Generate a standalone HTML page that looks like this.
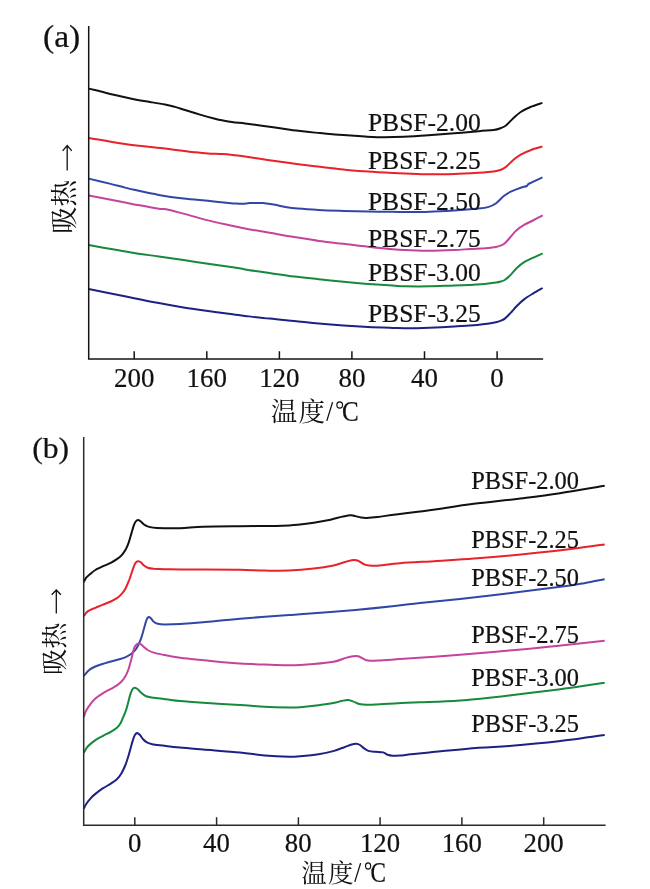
<!DOCTYPE html>
<html><head><meta charset="utf-8"><title>DSC curves</title>
<style>
html,body{margin:0;padding:0;background:#fff;}
body{width:650px;height:889px;overflow:hidden;font-family:"Liberation Serif",serif;}
svg{display:block;will-change:transform;}
</style></head><body>
<svg width="650" height="889" viewBox="0 0 650 889">
<rect width="650" height="889" fill="#fff"/>
<g fill="none" stroke-width="2.0" stroke-linejoin="round" stroke-linecap="butt">
<path stroke="#111111" d="M88.7 88.6C90.9 89.1 97.6 90.7 102.0 91.8C106.4 92.9 109.5 93.7 115.0 95.0C120.5 96.3 129.2 98.2 135.0 99.4C140.8 100.6 145.0 101.2 150.0 102.0C155.0 102.8 160.8 103.7 165.0 104.5C169.2 105.3 171.7 106.0 175.0 106.9C178.3 107.8 180.8 108.7 185.0 110.0C189.2 111.3 195.0 113.1 200.0 114.6C205.0 116.1 211.5 117.9 215.0 118.8C218.5 119.7 218.2 119.6 221.0 120.1C223.8 120.6 228.0 121.4 232.0 122.0C236.0 122.6 240.3 122.9 245.0 123.5C249.7 124.1 255.0 124.8 260.0 125.5C265.0 126.2 270.0 126.9 275.0 127.6C280.0 128.3 285.0 129.0 290.0 129.7C295.0 130.4 300.0 131.0 305.0 131.6C310.0 132.2 315.0 132.6 320.0 133.1C325.0 133.6 331.1 134.1 335.0 134.4C338.9 134.7 338.5 134.7 343.5 135.1C348.5 135.5 358.2 136.2 365.0 136.6C371.8 136.9 377.7 137.2 384.2 137.2C390.7 137.2 396.4 137.1 403.8 136.8C411.2 136.5 420.1 135.9 428.5 135.3C436.9 134.7 445.8 134.0 454.2 133.3C462.6 132.6 472.2 131.8 478.8 131.2C485.4 130.6 489.9 130.5 493.6 130.0C497.3 129.5 498.9 128.8 501.0 128.0C503.1 127.2 503.8 127.1 505.9 125.5C507.9 123.9 510.8 120.5 513.3 118.2C515.8 116.0 517.8 113.9 520.7 112.0C523.6 110.1 526.9 108.5 530.5 107.0C534.1 105.5 540.4 103.6 542.4 102.9"/>
<path stroke="#e8222a" d="M88.7 137.9C94.8 138.9 112.3 142.2 125.0 144.0C137.7 145.8 155.8 147.5 165.0 148.6C174.2 149.7 174.9 149.8 180.0 150.4C185.1 151.0 191.1 151.8 195.8 152.3C200.5 152.8 203.5 153.1 208.0 153.4C212.5 153.7 218.3 153.7 222.8 154.0C227.3 154.3 231.3 154.8 235.0 155.2C238.7 155.6 240.8 156.0 245.0 156.6C249.2 157.2 255.0 158.1 260.0 158.8C265.0 159.5 270.0 160.3 275.0 161.0C280.0 161.7 285.0 162.3 290.0 163.0C295.0 163.7 300.0 164.4 305.0 165.0C310.0 165.6 315.0 166.2 320.0 166.8C325.0 167.4 331.1 168.1 335.0 168.5C338.9 168.9 338.0 169.0 343.5 169.5C349.0 170.0 359.8 171.0 368.0 171.6C376.2 172.2 386.5 172.7 392.7 173.0C398.9 173.3 398.9 173.3 405.0 173.5C411.1 173.7 421.4 174.2 429.6 174.3C437.8 174.4 446.0 174.2 454.2 174.0C462.4 173.8 472.2 173.2 478.8 172.8C485.4 172.4 489.9 172.1 493.6 171.6C497.3 171.1 498.9 170.6 501.0 169.8C503.1 169.0 503.8 168.5 505.9 166.9C507.9 165.3 510.8 162.1 513.3 160.0C515.8 157.9 517.8 156.2 520.7 154.6C523.6 153.0 526.9 151.5 530.5 150.2C534.1 148.8 540.4 147.1 542.4 146.5"/>
<path stroke="#3246a6" d="M88.7 178.6C92.2 179.4 103.5 182.1 109.6 183.6C115.6 185.1 120.9 186.6 125.0 187.6C129.1 188.6 128.6 188.6 134.2 189.8C139.8 191.0 150.6 193.4 158.8 194.9C167.0 196.4 175.3 197.6 183.5 198.6C191.7 199.6 202.2 200.2 208.0 200.8C213.8 201.4 213.7 201.4 218.5 201.9C223.3 202.4 232.9 203.3 236.9 203.6C240.9 203.9 240.3 203.8 242.5 203.7C244.7 203.6 247.6 203.2 249.8 203.1C252.1 203.0 253.8 202.9 256.0 202.9C258.2 202.9 259.8 202.8 262.8 203.1C265.8 203.4 269.8 203.9 273.8 204.6C277.8 205.3 282.8 206.6 286.8 207.3C290.8 208.0 292.5 208.2 297.8 208.6C303.1 209.0 311.2 209.5 318.8 209.9C326.4 210.3 335.3 210.6 343.5 210.9C351.7 211.2 359.8 211.4 368.0 211.6C376.2 211.8 386.5 211.7 392.7 211.8C398.9 211.9 398.9 212.1 405.0 212.1C411.1 212.1 421.4 212.1 429.6 211.8C437.8 211.6 446.0 211.1 454.2 210.6C462.4 210.1 473.1 209.2 478.8 208.6C484.6 208.0 485.8 207.8 488.7 206.9C491.6 206.0 493.6 205.0 496.1 203.2C498.6 201.4 501.1 198.2 503.5 196.3C505.9 194.4 507.9 193.1 510.8 191.7C513.7 190.3 518.0 188.6 520.7 187.7C523.4 186.8 525.4 186.7 526.8 186.0C528.2 185.3 526.7 184.9 529.3 183.5C531.9 182.1 540.2 178.4 542.4 177.4"/>
<path stroke="#c4439d" d="M88.7 195.4C92.2 196.1 103.5 198.4 109.6 199.6C115.6 200.8 120.9 201.8 125.0 202.6C129.1 203.4 128.6 203.4 134.2 204.4C139.8 205.4 153.5 207.9 158.8 208.7C164.1 209.5 162.1 208.5 166.2 209.3C170.3 210.1 176.5 211.8 183.5 213.6C190.5 215.4 200.9 218.6 208.0 220.4C215.1 222.2 220.0 223.3 226.2 224.6C232.4 225.9 237.8 227.0 245.0 228.4C252.2 229.8 261.4 231.4 269.6 232.8C277.8 234.2 286.0 235.7 294.2 237.0C302.4 238.3 310.6 239.8 318.8 240.9C327.0 242.0 335.3 242.8 343.5 243.8C351.7 244.8 359.8 245.9 368.0 246.8C376.2 247.7 386.5 248.8 392.7 249.3C398.9 249.8 398.9 249.8 405.0 250.0C411.1 250.2 421.4 250.7 429.6 250.7C437.8 250.7 447.5 250.3 454.2 250.0C460.9 249.7 464.9 249.3 470.0 249.0C475.1 248.7 480.3 248.5 484.6 248.2C488.9 247.8 493.3 247.4 496.0 246.9C498.7 246.4 499.5 246.0 501.0 245.4C502.5 244.8 503.5 244.6 505.1 243.1C506.8 241.6 508.9 238.7 510.9 236.5C512.8 234.3 514.6 231.9 516.8 230.0C519.0 228.1 521.4 226.5 524.1 224.9C526.8 223.3 529.8 222.1 532.9 220.5C536.0 218.9 541.1 216.2 542.7 215.4"/>
<path stroke="#158a3e" d="M88.7 245.1C92.2 245.7 102.0 247.5 109.6 248.8C117.2 250.1 126.0 251.7 134.2 253.0C142.4 254.3 150.6 255.3 158.8 256.5C167.0 257.7 175.3 258.8 183.5 260.0C191.7 261.2 199.8 262.6 208.0 263.8C216.2 265.0 226.5 266.3 232.7 267.2C238.9 268.1 238.8 268.4 245.0 269.4C251.2 270.4 261.4 271.8 269.6 273.0C277.8 274.2 286.0 275.5 294.2 276.5C302.4 277.5 310.6 278.3 318.8 279.2C327.0 280.1 335.3 280.9 343.5 281.7C351.7 282.5 359.8 283.2 368.0 283.9C376.2 284.5 386.5 285.2 392.7 285.6C398.9 286.0 398.9 286.2 405.0 286.3C411.1 286.4 421.4 286.5 429.6 286.3C437.8 286.1 447.5 285.6 454.2 285.4C460.9 285.2 464.9 285.2 470.0 285.0C475.1 284.8 480.3 284.4 484.6 284.0C488.9 283.6 493.3 283.0 496.0 282.6C498.7 282.2 499.5 281.9 501.0 281.4C502.5 280.9 503.5 280.8 505.1 279.7C506.8 278.6 508.9 276.6 510.9 274.6C512.8 272.7 514.6 270.1 516.8 268.0C519.0 265.9 521.4 263.8 524.1 262.1C526.8 260.4 529.8 259.2 532.9 257.8C536.0 256.4 541.1 254.1 542.7 253.4"/>
<path stroke="#1d2184" d="M88.7 289.0C92.2 289.7 102.0 291.7 109.6 293.2C117.2 294.7 126.0 296.5 134.2 298.2C142.4 299.9 150.6 301.6 158.8 303.1C167.0 304.7 175.3 306.2 183.5 307.5C191.7 308.8 199.8 309.9 208.0 311.0C216.2 312.1 226.5 313.4 232.7 314.2C238.9 315.0 238.8 315.2 245.0 315.9C251.2 316.6 261.4 317.8 269.6 318.6C277.8 319.5 286.0 320.2 294.2 321.0C302.4 321.8 310.6 322.8 318.8 323.5C327.0 324.2 335.3 324.9 343.5 325.5C351.7 326.1 359.8 326.6 368.0 327.0C376.2 327.4 386.5 327.7 392.7 327.9C398.9 328.1 398.9 328.2 405.0 328.2C411.1 328.2 421.4 328.0 429.6 327.7C437.8 327.4 447.5 326.9 454.2 326.5C460.9 326.1 464.9 326.0 470.0 325.6C475.1 325.2 480.3 324.6 484.6 324.0C488.9 323.4 493.3 322.8 496.0 322.2C498.7 321.6 499.5 321.2 501.0 320.6C502.5 320.0 503.5 319.7 505.1 318.4C506.8 317.1 508.9 314.7 510.9 312.6C512.8 310.5 514.6 308.2 516.8 306.0C519.0 303.8 521.4 301.5 524.1 299.4C526.8 297.3 529.8 295.5 532.9 293.6C536.0 291.7 541.1 288.9 542.7 288.0"/>
<path stroke="#111111" d="M83.8 582.3C84.2 581.5 85.0 579.2 86.2 577.7C87.4 576.2 89.3 574.8 90.8 573.5C92.3 572.2 93.4 571.2 95.4 570.0C97.5 568.8 100.5 567.4 103.1 566.2C105.7 565.0 108.5 564.0 110.8 562.8C113.1 561.6 115.1 560.4 116.9 559.2C118.7 558.0 120.1 556.9 121.5 555.4C122.9 553.9 124.2 552.0 125.4 550.0C126.6 548.0 127.5 545.9 128.5 543.1C129.5 540.3 130.6 536.1 131.5 533.1C132.4 530.1 133.1 527.3 133.8 525.4C134.5 523.5 135.0 522.4 135.7 521.5C136.4 520.6 137.3 520.0 138.2 520.0C139.0 520.0 139.7 520.7 140.8 521.5C141.9 522.3 143.2 524.0 144.6 524.9C146.0 525.8 147.1 526.4 149.2 526.9C151.2 527.4 151.8 527.8 156.9 528.0C162.0 528.2 172.3 528.4 180.0 528.2C187.7 528.0 193.1 527.1 203.1 526.8C213.1 526.5 229.8 526.4 240.0 526.3C250.2 526.2 256.4 526.1 264.6 526.0C272.8 525.9 283.3 525.6 289.2 525.4C295.1 525.2 295.9 525.0 300.0 524.6C304.1 524.2 309.2 523.5 313.8 522.8C318.4 522.1 322.9 521.3 327.7 520.3C332.5 519.3 338.6 517.5 342.5 516.6C346.4 515.8 348.7 515.3 350.8 515.2C352.9 515.1 353.7 515.7 355.4 516.1C357.1 516.5 359.0 517.2 360.9 517.5C362.8 517.8 363.7 518.0 366.5 517.9C369.3 517.8 372.6 517.6 377.5 517.0C382.4 516.4 388.9 515.3 396.0 514.4C403.1 513.5 413.2 512.3 420.0 511.4C426.8 510.5 427.9 510.5 436.9 509.2C445.9 507.9 459.4 505.6 473.8 503.8C488.2 502.0 508.7 500.0 523.1 498.2C537.5 496.4 546.4 495.3 560.0 493.2C573.6 491.1 597.2 487.0 604.7 485.8"/>
<path stroke="#e8222a" d="M83.8 616.1C84.5 615.3 85.8 612.8 87.7 611.4C89.6 610.0 92.8 608.9 95.4 607.8C98.0 606.7 100.5 605.6 103.1 604.6C105.7 603.6 108.5 602.6 110.8 601.5C113.1 600.4 115.1 599.4 116.9 598.2C118.7 597.0 120.1 595.8 121.5 594.2C122.9 592.6 124.1 591.1 125.4 588.7C126.7 586.3 128.0 583.0 129.2 580.0C130.3 577.0 131.4 573.4 132.3 570.8C133.2 568.2 133.9 566.1 134.6 564.6C135.3 563.1 135.9 562.4 136.6 561.8C137.2 561.2 137.8 561.1 138.5 561.2C139.2 561.3 139.9 561.6 140.8 562.3C141.7 563.0 142.7 564.5 143.8 565.4C145.0 566.3 146.0 567.1 147.7 567.7C149.4 568.3 150.7 568.5 153.8 568.8C156.9 569.0 161.8 569.1 166.2 569.2C170.6 569.3 173.8 569.4 180.0 569.5C186.2 569.6 193.1 569.6 203.1 569.6C213.1 569.6 229.8 569.6 240.0 569.8C250.2 570.0 256.4 570.5 264.6 570.6C272.8 570.7 281.0 570.9 289.2 570.6C297.4 570.3 306.4 569.5 313.8 568.6C321.2 567.7 328.2 566.5 333.5 565.4C338.8 564.2 342.5 562.6 345.8 561.7C349.1 560.8 351.1 560.2 353.2 560.0C355.3 559.8 356.1 559.9 358.2 560.7C360.2 561.5 362.6 564.1 365.5 564.9C368.4 565.7 369.6 566.0 375.4 565.7C381.1 565.4 389.8 564.0 400.0 563.2C410.2 562.4 424.6 561.7 436.9 560.9C449.2 560.1 459.4 559.6 473.8 558.5C488.2 557.4 506.9 555.9 523.1 554.3C539.3 552.7 557.2 550.8 570.8 549.1C584.4 547.5 599.1 545.2 604.7 544.4"/>
<path stroke="#3246a6" d="M83.8 675.9C84.7 674.9 87.3 671.6 89.2 670.0C91.1 668.4 93.1 667.5 95.4 666.5C97.7 665.5 100.5 664.6 103.1 663.8C105.7 663.0 108.2 662.2 110.8 661.5C113.4 660.8 115.9 660.3 118.5 659.5C121.1 658.7 123.9 658.0 126.2 656.9C128.5 655.8 130.5 654.6 132.3 653.1C134.1 651.6 135.5 650.0 136.9 647.7C138.3 645.4 139.7 642.3 140.8 639.2C142.0 636.1 142.9 632.3 143.8 629.2C144.7 626.1 145.5 622.7 146.2 620.8C146.8 618.9 147.2 618.4 147.7 617.7C148.2 617.1 148.6 616.8 149.2 616.9C149.8 617.0 150.3 617.7 151.1 618.5C151.9 619.3 152.7 620.9 153.8 621.8C154.9 622.7 155.9 623.4 157.7 623.8C159.5 624.2 160.9 624.4 164.6 624.4C168.3 624.4 173.6 624.4 180.0 624.0C186.4 623.6 193.1 623.1 203.1 622.2C213.1 621.3 225.7 619.9 240.0 618.7C254.3 617.5 279.2 615.8 289.2 615.1C299.2 614.4 289.0 615.2 300.0 614.3C311.0 613.4 340.0 611.2 355.4 609.9C370.8 608.5 381.5 607.4 392.3 606.2C403.1 605.1 408.7 604.2 420.0 603.0C431.3 601.8 445.1 600.5 460.0 598.9C474.9 597.3 492.8 595.2 509.2 593.2C525.6 591.2 546.2 588.7 558.5 587.1C570.8 585.5 575.4 584.7 583.1 583.4C590.8 582.1 601.1 579.9 604.7 579.2"/>
<path stroke="#c4439d" d="M83.8 717.0C84.2 715.9 85.0 712.8 86.2 710.6C87.4 708.4 89.3 705.6 90.8 703.6C92.3 701.6 93.4 700.2 95.4 698.5C97.5 696.8 100.5 694.7 103.1 693.1C105.7 691.5 108.5 690.2 110.8 688.9C113.1 687.6 115.1 686.6 116.9 685.4C118.7 684.2 120.1 683.0 121.5 681.5C122.9 680.0 124.2 678.2 125.4 676.2C126.6 674.2 127.5 672.2 128.5 669.2C129.5 666.2 130.6 661.8 131.5 658.5C132.4 655.2 133.1 651.4 133.8 649.2C134.5 647.0 135.0 646.4 135.7 645.4C136.4 644.4 137.4 643.8 138.2 643.5C139.0 643.2 139.5 643.3 140.3 643.8C141.1 644.2 141.9 645.2 143.1 646.2C144.3 647.2 145.9 648.9 147.7 650.0C149.5 651.1 151.0 651.8 153.8 652.6C156.6 653.5 160.2 654.2 164.6 655.1C169.0 656.0 175.6 657.1 180.0 657.7C184.4 658.3 184.9 658.3 190.8 658.9C196.7 659.5 207.2 660.6 215.4 661.4C223.6 662.2 231.8 663.0 240.0 663.5C248.2 664.0 256.4 664.3 264.6 664.6C272.8 664.9 281.0 665.4 289.2 665.3C297.4 665.2 306.4 664.6 313.8 664.0C321.2 663.4 328.2 662.8 333.5 661.8C338.8 660.8 342.5 658.8 345.8 657.9C349.1 657.0 351.1 656.5 353.2 656.2C355.3 655.9 356.5 655.8 358.2 656.2C359.9 656.6 361.5 657.9 363.1 658.6C364.7 659.3 365.6 660.3 368.0 660.6C370.4 660.9 372.5 660.9 377.8 660.6C383.1 660.4 386.3 660.1 400.0 659.1C413.7 658.1 441.8 656.2 460.0 654.8C478.2 653.4 492.8 652.1 509.2 650.6C525.6 649.1 542.6 647.4 558.5 645.7C574.4 644.1 597.0 641.5 604.7 640.7"/>
<path stroke="#158a3e" d="M83.8 752.7C84.5 751.7 85.8 748.6 87.7 746.5C89.6 744.4 92.8 741.9 95.4 740.1C98.0 738.3 100.5 737.2 103.1 735.8C105.7 734.4 108.5 733.2 110.8 731.9C113.1 730.6 115.2 729.3 116.9 727.8C118.6 726.3 119.7 724.7 120.8 722.7C121.9 720.7 122.9 718.0 123.8 715.8C124.7 713.6 125.5 711.7 126.2 709.6C126.9 707.5 127.4 705.7 128.0 703.3C128.6 700.9 129.3 697.7 130.0 695.4C130.7 693.1 131.5 690.7 132.3 689.4C133.1 688.1 134.0 687.7 134.9 687.7C135.8 687.7 136.6 688.3 137.7 689.2C138.8 690.1 140.1 691.9 141.5 693.1C142.9 694.3 144.1 695.4 146.2 696.2C148.2 697.0 150.5 697.3 153.8 697.8C157.1 698.3 161.8 698.8 166.2 699.3C170.6 699.8 173.8 700.4 180.0 701.0C186.2 701.6 193.1 702.1 203.1 702.8C213.1 703.5 229.8 704.3 240.0 705.0C250.2 705.7 256.4 706.4 264.6 706.8C272.8 707.2 283.3 707.4 289.2 707.5C295.1 707.6 295.1 707.6 300.0 707.2C304.9 706.8 313.0 706.0 318.5 705.3C324.0 704.6 329.2 703.9 333.2 703.1C337.2 702.4 340.0 701.3 342.5 700.8C345.0 700.3 346.2 700.0 348.0 700.1C349.8 700.2 351.6 701.0 353.5 701.6C355.4 702.2 356.9 703.5 359.1 704.0C361.3 704.5 362.5 704.8 366.5 704.8C370.5 704.8 377.3 704.4 383.1 704.1C388.9 703.8 395.4 703.4 401.5 703.1C407.6 702.8 410.2 702.7 420.0 702.3C429.8 701.9 445.1 701.6 460.0 700.5C474.9 699.4 492.8 697.4 509.2 695.5C525.6 693.6 542.6 691.5 558.5 689.4C574.4 687.3 597.0 683.8 604.7 682.7"/>
<path stroke="#1d2184" d="M83.8 808.8C84.2 808.0 85.0 805.8 86.2 804.0C87.4 802.2 89.3 799.8 90.8 798.1C92.3 796.4 93.4 795.5 95.4 793.9C97.5 792.2 100.5 789.9 103.1 788.2C105.7 786.5 108.5 785.1 110.8 783.6C113.1 782.1 115.1 781.0 116.9 779.3C118.7 777.6 120.1 775.7 121.5 773.3C122.9 770.9 124.2 767.9 125.4 765.0C126.6 762.1 127.5 759.1 128.5 755.8C129.5 752.5 130.6 748.1 131.5 745.0C132.4 741.9 133.1 739.1 133.8 737.3C134.5 735.4 135.0 734.6 135.7 733.9C136.3 733.2 137.0 733.0 137.7 733.2C138.4 733.4 139.1 734.0 140.0 735.0C140.9 736.0 141.9 738.0 143.1 739.2C144.2 740.4 145.4 741.6 146.9 742.4C148.4 743.2 149.4 743.6 152.3 744.2C155.2 744.8 160.0 745.2 164.6 745.8C169.2 746.4 173.6 747.0 180.0 747.6C186.4 748.2 193.1 748.7 203.1 749.5C213.1 750.3 229.8 751.4 240.0 752.4C250.2 753.4 256.4 754.8 264.6 755.5C272.8 756.2 283.3 756.6 289.2 756.7C295.1 756.8 295.1 756.6 300.0 756.2C304.9 755.8 313.0 755.1 318.5 754.2C324.0 753.4 328.9 752.3 333.2 751.1C337.5 749.9 341.2 748.3 344.3 747.2C347.4 746.1 349.7 745.1 351.7 744.5C353.7 743.9 354.9 743.7 356.3 743.8C357.7 743.9 358.6 744.2 360.0 745.0C361.4 745.8 363.1 747.7 364.6 748.7C366.1 749.7 367.4 750.6 369.2 751.1C371.0 751.6 373.4 751.6 375.7 751.8C378.0 752.0 381.1 751.9 383.1 752.4C385.1 752.9 386.2 754.2 387.7 754.8C389.2 755.3 390.3 755.6 392.3 755.7C394.3 755.8 396.6 755.7 399.7 755.5C402.8 755.3 405.9 754.8 410.8 754.3C415.7 753.8 417.9 753.6 429.2 752.5C440.5 751.4 465.2 748.9 478.5 747.8C491.8 746.7 495.9 747.1 509.2 746.0C522.5 744.9 542.6 743.1 558.5 741.3C574.4 739.4 597.0 736.0 604.7 734.9"/>
</g>
<path d="M88.7 26V359.7M88.0 359H543.1M134.2 351.3V359M206.8 351.3V359M279.4 351.3V359M351.9 351.3V359M424.5 351.3V359M497.1 351.3V359" fill="none" stroke="#141414" stroke-width="1.5"/>
<path d="M83.7 436.9V825.9M83.0 825.2H605.6M134.8 817.2V825.2M216.6 817.2V825.2M298.4 817.2V825.2M380.1 817.2V825.2M461.9 817.2V825.2M543.7 817.2V825.2" fill="none" stroke="#2a2a2a" stroke-width="1.5"/>
<g font-family="'Liberation Serif', serif" fill="#111" stroke="#111" stroke-width="0.22">
<text transform="translate(43.00 47.10) scale(1.085 1)" font-size="31">(a)</text>
<text transform="translate(32.30 458.40) scale(1.040 1)" font-size="30.4">(b)</text>
<text transform="translate(134.20 387.30) scale(0.970 1)" font-size="27.8" text-anchor="middle">200</text>
<text transform="translate(206.78 387.30) scale(0.970 1)" font-size="27.8" text-anchor="middle">160</text>
<text transform="translate(279.36 387.30) scale(0.970 1)" font-size="27.8" text-anchor="middle">120</text>
<text transform="translate(351.94 387.30) scale(0.970 1)" font-size="27.8" text-anchor="middle">80</text>
<text transform="translate(424.52 387.30) scale(0.970 1)" font-size="27.8" text-anchor="middle">40</text>
<text transform="translate(497.10 387.30) scale(0.970 1)" font-size="27.8" text-anchor="middle">0</text>
<text transform="translate(134.60 851.90) scale(1.017 1)" font-size="26.3" text-anchor="middle">0</text>
<text transform="translate(216.40 851.90) scale(1.017 1)" font-size="26.3" text-anchor="middle">40</text>
<text transform="translate(298.20 851.90) scale(1.017 1)" font-size="26.3" text-anchor="middle">80</text>
<text transform="translate(380.00 851.90) scale(1.017 1)" font-size="26.3" text-anchor="middle">120</text>
<text transform="translate(461.80 851.90) scale(1.017 1)" font-size="26.3" text-anchor="middle">160</text>
<text transform="translate(543.60 851.90) scale(1.017 1)" font-size="26.3" text-anchor="middle">200</text>
<text transform="translate(367.90 131.00) scale(0.975 1)" font-size="26.2">PBSF-2.00</text>
<text transform="translate(367.90 169.10) scale(0.975 1)" font-size="26.2">PBSF-2.25</text>
<text transform="translate(367.90 210.10) scale(0.975 1)" font-size="26.2">PBSF-2.50</text>
<text transform="translate(367.90 247.00) scale(0.975 1)" font-size="26.2">PBSF-2.75</text>
<text transform="translate(367.90 280.90) scale(0.975 1)" font-size="26.2">PBSF-3.00</text>
<text transform="translate(367.90 321.50) scale(0.975 1)" font-size="26.2">PBSF-3.25</text>
<text transform="translate(471.20 488.70) scale(0.988 1)" font-size="24.7">PBSF-2.00</text>
<text transform="translate(471.20 547.50) scale(0.988 1)" font-size="24.7">PBSF-2.25</text>
<text transform="translate(471.20 586.30) scale(0.988 1)" font-size="24.7">PBSF-2.50</text>
<text transform="translate(471.20 642.60) scale(0.988 1)" font-size="24.7">PBSF-2.75</text>
<text transform="translate(471.20 686.10) scale(0.988 1)" font-size="24.7">PBSF-3.00</text>
<text transform="translate(471.20 732.10) scale(0.988 1)" font-size="24.7">PBSF-3.25</text>
</g>
<g fill="#111" font-family="'Liberation Serif', 'Noto Serif CJK SC', serif">
<text x="270.7" y="420.7" font-size="26.5" letter-spacing="1.2">温度</text>
<text x="301.3" y="881.7" font-size="25.5" letter-spacing="1.2">温度</text>
<text transform="translate(74.4 233.7) rotate(-90)" font-size="27">吸热</text>
<text transform="translate(63.6 675) rotate(-90)" font-size="26.3">吸热</text>
</g>
<g fill="none" stroke="#111">
<path d="M326.8 420.9L332.6 402.1M354.8 881.9L360.6 863.1" stroke-width="1.3"/>
<ellipse cx="339.7" cy="405" rx="2.9" ry="3.1" stroke-width="1.1"/>
<ellipse cx="368.1" cy="866" rx="2.6" ry="3.1" stroke-width="1.1"/>
</g>
<g font-family="'Liberation Serif', serif" fill="#111" stroke="#111" stroke-width="0.22">
<text transform="translate(342.00 421.40) scale(0.865 1)" font-size="29">C</text>
<text transform="translate(370.45 882.10) scale(0.806 1)" font-size="28.7">C</text>
</g>
<path d="M67.2 170.6V145.7M62.6 150.9L67.2 145.6L71.8 150.9" fill="none" stroke="#111" stroke-width="1.3" stroke-linejoin="miter"/>
<path d="M56.3 613.6V590.1M51.699999999999996 594.7L56.3 590.0L60.9 594.7" fill="none" stroke="#111" stroke-width="1.3" stroke-linejoin="miter"/>
</svg>
</body></html>
